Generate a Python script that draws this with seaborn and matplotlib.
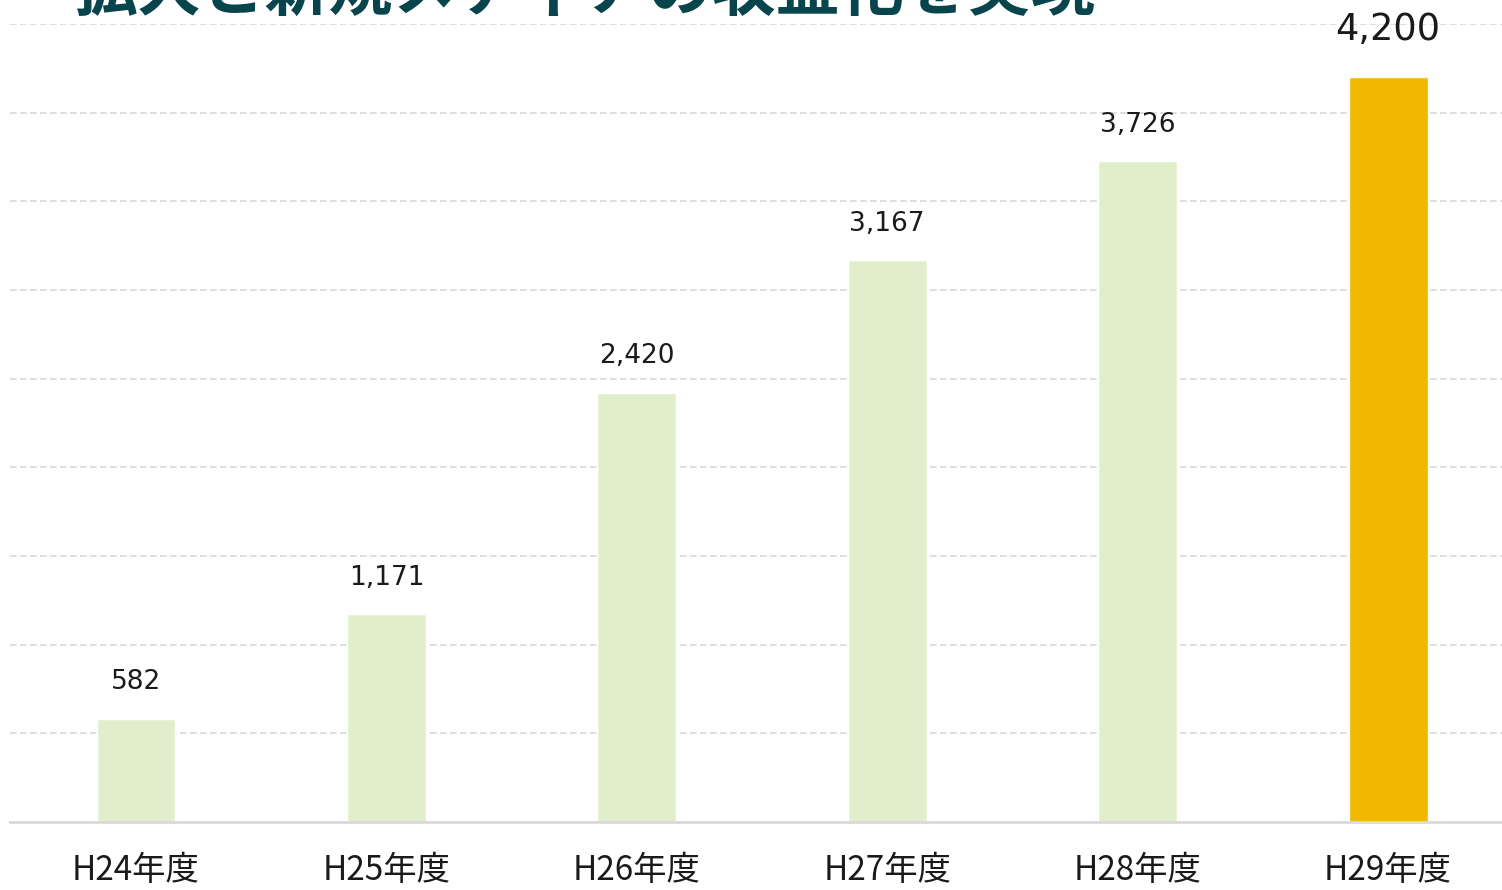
import matplotlib
matplotlib.use("Agg")
import matplotlib.pyplot as plt
import seaborn as sns
import pandas as pd

categories = ["H24年度", "H25年度", "H26年度", "H27年度", "H28年度", "H29年度"]
values = [582, 1171, 2420, 3167, 3726, 4200]
value_labels = ["582", "1,171", "2,420", "3,167", "3,726", "4,200"]
title_text = "拡大と新規メディアの収益化を実現"

sns.set_theme(style="white")
plt.rcParams['font.family'] = ['Noto Sans CJK JP', 'DejaVu Sans']

df = pd.DataFrame({"year": categories, "value": values})
palette = ["#E0EECC"] * 5 + ["#F1B800"]

fig = plt.figure(figsize=(15.02, 8.9), dpi=100)
ax = fig.add_axes([10 / 1502, 1 - 822 / 890, 1492 / 1502, (822 - 24) / 890])
sns.barplot(data=df, x="year", y="value", hue="year", palette=palette,
            legend=False, width=0.315, ax=ax, saturation=1)

ax.set_ylim(0, 4500)
ax.set_xlim(-0.503, 5.455)
ax.set_yticks(range(0, 4501, 500))
ax.set_yticklabels([])
ax.tick_params(axis="y", length=0)
ax.yaxis.grid(True, color="#D9D9D9", linestyle=(0, (4, 2)), linewidth=1.2)
ax.set_axisbelow(True)
for s in ["top", "right", "left"]:
    ax.spines[s].set_visible(False)
ax.spines["bottom"].set_color("#D9D9D9")
ax.spines["bottom"].set_linewidth(2)
ax.set_xlabel("")
ax.set_ylabel("")
ax.tick_params(axis="x", length=0, pad=22, labelsize=24, labelcolor="#1A1A1A")

for i, (v, lab) in enumerate(zip(values, value_labels)):
    if i == len(values) - 1:
        ax.annotate(lab, (i, v), xytext=(0, 21), textcoords="offset points",
                    ha="center", va="bottom", fontsize=26.5, color="#1A1A1A",
                    family="DejaVu Sans")
    else:
        ax.annotate(lab, (i, v), xytext=(0, 17), textcoords="offset points",
                    ha="center", va="bottom", fontsize=19, color="#1A1A1A",
                    family="DejaVu Sans")

fig.text(74 / 1502, 1 - 10 / 890, title_text, fontsize=46, fontweight="bold",
         color="#07444C", ha="left", va="baseline")

fig.savefig("out.png", dpi=100)
